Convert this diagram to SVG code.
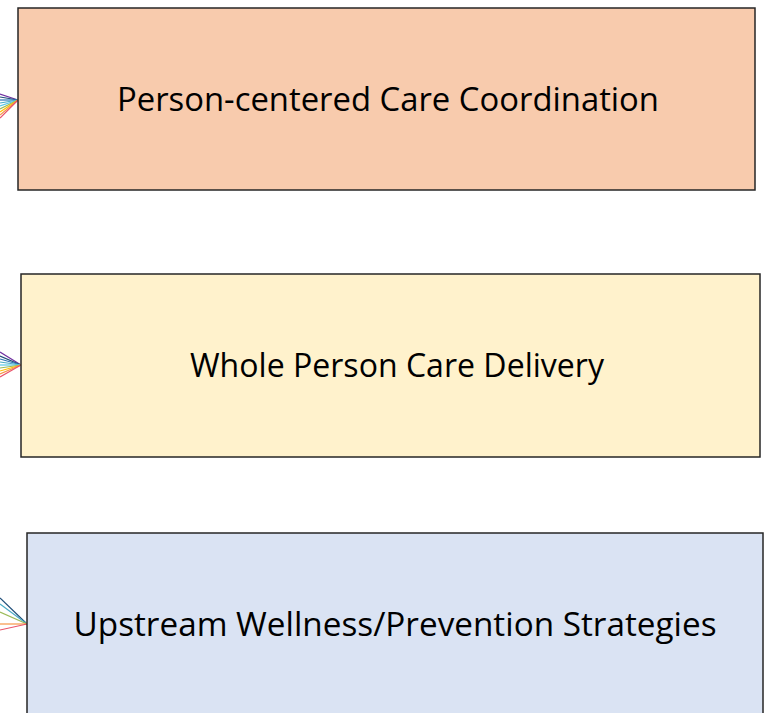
<svg xmlns="http://www.w3.org/2000/svg" width="768" height="713" viewBox="0 0 768 713">
<style>
.box{stroke:#262626;stroke-width:1.5}
.lbl{font-family:"Open Sans","Noto Sans",sans-serif;font-size:32px;fill:#000;text-anchor:middle}
.c line{stroke-width:1.2;fill:none}
</style>
<rect width="768" height="713" fill="#fff"/>
<g id="connectors" class="c">
<line x1="0" y1="94" x2="18" y2="100" stroke="#7030A0"/>
<line x1="0" y1="97" x2="18" y2="100" stroke="#1F4E79"/>
<line x1="0" y1="100" x2="18" y2="100" stroke="#2E75B6"/>
<line x1="0" y1="103" x2="18" y2="100" stroke="#4BACC6"/>
<line x1="0" y1="106" x2="18" y2="100" stroke="#5BC8E8"/>
<line x1="0" y1="109" x2="18" y2="100" stroke="#9BBB59"/>
<line x1="0" y1="112" x2="18" y2="100" stroke="#FFC000"/>
<line x1="0" y1="115" x2="18" y2="100" stroke="#F79646"/>
<line x1="0" y1="118" x2="18" y2="100" stroke="#E9546B"/>
<line x1="0" y1="352" x2="21" y2="365" stroke="#7030A0"/>
<line x1="0" y1="356" x2="21" y2="365" stroke="#1F4E79"/>
<line x1="0" y1="359" x2="21" y2="365" stroke="#2E75B6"/>
<line x1="0" y1="362" x2="21" y2="365" stroke="#4BACC6"/>
<line x1="0" y1="365" x2="21" y2="365" stroke="#5BC8E8"/>
<line x1="0" y1="368" x2="21" y2="365" stroke="#9BBB59"/>
<line x1="0" y1="371" x2="21" y2="365" stroke="#FFC000"/>
<line x1="0" y1="374" x2="21" y2="365" stroke="#F79646"/>
<line x1="0" y1="377" x2="21" y2="365" stroke="#E9546B"/>
<line x1="0" y1="598" x2="27" y2="624" stroke="#1F4E79"/>
<line x1="0" y1="604" x2="27" y2="624" stroke="#4BACC6"/>
<line x1="0" y1="612" x2="27" y2="624" stroke="#9BBB59"/>
<line x1="0" y1="624" x2="27" y2="624" stroke="#F79646"/>
<line x1="0" y1="630" x2="27" y2="624" stroke="#E9546B"/>
</g>
<g id="node1">
<rect class="box" x="18" y="8" width="737" height="182" fill="#F8CBAD"/>
<text class="lbl" x="388" y="111" textLength="542" lengthAdjust="spacingAndGlyphs">Person-centered Care Coordination</text>
</g>
<g id="node2">
<rect class="box" x="21" y="274" width="739" height="183" fill="#FFF2CC"/>
<text class="lbl" x="397" y="377" textLength="414" lengthAdjust="spacingAndGlyphs">Whole Person Care Delivery</text>
</g>
<g id="node3">
<rect class="box" x="27" y="533" width="736" height="185" fill="#DAE3F3"/>
<text class="lbl" x="395" y="636" textLength="643" lengthAdjust="spacingAndGlyphs">Upstream Wellness/Prevention Strategies</text>
</g>
</svg>
